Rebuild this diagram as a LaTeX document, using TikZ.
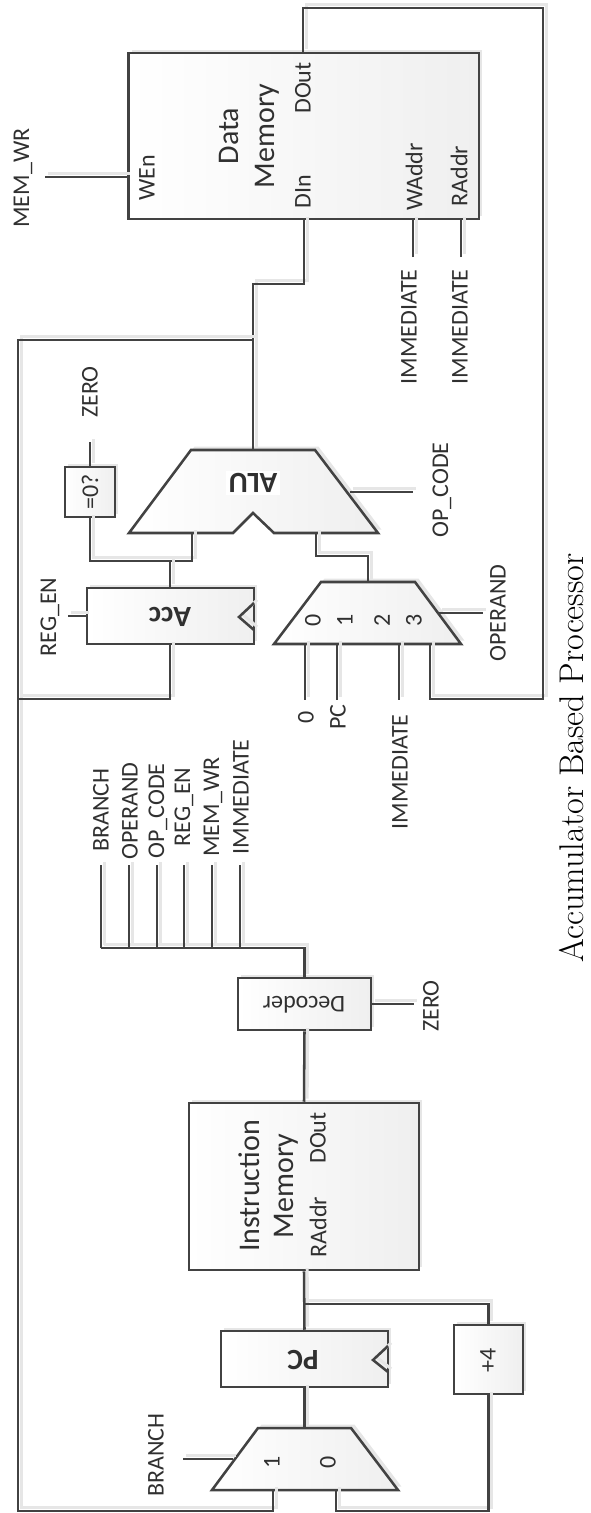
\documentclass[tikz,border=0pt]{standalone}
\usepackage{fontspec}
\setsansfont{Carlito}
\usepackage{xcolor}
\usetikzlibrary{shadows}
\definecolor{wire-dark}{HTML}{424242}
\definecolor{text-dark}{HTML}{303030}
\definecolor{shade-end}{HTML}{EFEFEF}
\definecolor{shadow-soft}{HTML}{E6E6E6}
\def\px{0.75pt}
\tikzset{
    wire/.style={line width=1.9pt, color=wire-dark, line join=miter,
        preaction={draw=shadow-soft, line width=2.2pt, transform canvas={xshift=2.4pt, yshift=2.4pt}}},
    block/.style={draw=wire-dark, line width=1.9pt, left color=white, right color=shade-end,
        drop shadow={shadow xshift=2.6pt, shadow yshift=2.6pt, fill=shadow-soft, opacity=1}},
    sig/.style={font=\sffamily\fontsize{18}{18}\selectfont, text=text-dark, rotate=90, inner sep=0pt},
    title/.style={sig, font=\sffamily\fontsize{22.5}{23}\selectfont},
    tag/.style={font=\sffamily\bfseries\fontsize{22}{22}\selectfont, text=text-dark, rotate=180, inner sep=0pt},
}
\begin{document}
\begin{tikzpicture}[x=\px, y=-\px]
    \useasboundingbox (0,0) rectangle (591,1513);

    \node[block, minimum width=350.5*\px, minimum height=166*\px] (dmem) at (303.75,136) {};
    \node[title] (dmem-a) at (229,136) {Data};
    \node[title] (dmem-b) at (267,136) {Memory};
    \node[sig] (dmem-wen) at (147,178) {WEn};
    \node[sig] (dmem-dout) at (303,88) {DOut};
    \node[sig] (dmem-din) at (303,192) {DIn};
    \node[sig] (dmem-waddr) at (414,177) {WAddr};
    \node[sig] (dmem-raddr) at (459,176) {RAddr};

    \node[block, minimum width=230*\px, minimum height=167*\px] (imem) at (304,1186.5) {};
    \node[title] (imem-a) at (249,1186) {Instruction};
    \node[title] (imem-b) at (286,1186) {Memory};
    \node[sig] (imem-dout) at (318,1138) {DOut};
    \node[sig] (imem-raddr) at (318,1227) {RAddr};

    \draw[block] (191,450) coordinate (alu-tl) -- (315,450) coordinate (alu-tr) -- (378,533) -- (274,533)
        -- (253,513) -- (233,533) -- (129,533) -- cycle;
    \node[tag, fill=white, inner sep=2pt] (alu) at (253,483) {ALU};

    \draw[block] (321,582) coordinate (muxa-tl) -- (415,582) -- (461,644) -- (274,644) coordinate (muxa-bl) -- cycle;
    \node[sig] (muxa-0) at (313,620) {0};
    \node[sig] (muxa-1) at (345,620) {1};
    \node[sig] (muxa-2) at (382,620) {2};
    \node[sig] (muxa-3) at (414,620) {3};

    \draw[block] (258,1428) coordinate (muxb-tl) -- (351,1428) -- (398,1490) -- (212,1490) coordinate (muxb-bl) -- cycle;
    \node[sig] (muxb-1) at (272,1462) {1};
    \node[sig] (muxb-0) at (328,1462) {0};

    \node[block, minimum width=167*\px, minimum height=56*\px] (acc) at (170.5,616) {};
    \node[tag] (acc-lbl) at (170,617) {Acc};
    \draw[wire] (254,603) coordinate (acc-ck-a) -- (239,617) -- (254,630) coordinate (acc-ck-b);

    \node[block, minimum width=167*\px, minimum height=56*\px] (pc) at (304.5,1359) {};
    \node[tag] (pc-lbl) at (303,1360) {PC};
    \draw[wire] (388,1346) coordinate (pc-ck-a) -- (373,1360) -- (388,1372) coordinate (pc-ck-b);

    \node[block, minimum width=50*\px, minimum height=50*\px] (iszero) at (90,492) {};
    \node[sig] (iszero-lbl) at (90,492) {=0?};

    \node[block, minimum width=69*\px, minimum height=69*\px] (plus) at (488.5,1359.5) {};
    \node[sig] (plus-lbl) at (488,1360) {+4};

    \node[block, minimum width=133*\px, minimum height=52*\px] (dec) at (304.5,1004) {};
    \node[tag, font=\sffamily\fontsize{18}{18}\selectfont] (dec-lbl) at (304,1005) {Decoder};

    \coordinate (fb-j) at (253,340);
    \coordinate (acc-j) at (170,561);
    \coordinate (pc-j) at (304.5,1304);
    \coordinate (bus-j) at (304.5,948);

    \draw[wire] (dmem.north -| 303,0) -- (303,8) -- (543,8) -- (543,699) -- (430,699) -- (430,644);
    \draw[wire] (dmem.south -| 304,0) -- (304,284) -- (253,284) -- (fb-j) -- (alu-tl -| fb-j);
    \draw[wire] (fb-j) -- (18,340) -- (18,1511) -- (273,1511) -- (273,1490);
    \draw[wire] (acc.south -| acc-j) -- (170,699) -- (18,699);
    \draw[wire] (iszero.north) -- (90,442);
    \draw[wire] (iszero.south) -- (90,561) -- (192,561) -- (192,533);
    \draw[wire] (acc-j) -- (acc.north -| acc-j);
    \draw[wire] (muxa-tl -| 368,0) -- (368,556) -- (316,556) -- (316,533);
    \draw[wire] (45,177) -- (dmem.west |- 0,177);
    \draw[wire] (413,257) -- (dmem.south -| 413,0);
    \draw[wire] (461,257) -- (dmem.south -| 461,0);
    \draw[wire] (350,492) -- (413,492);
    \draw[wire] (439,613) -- (483,613);
    \draw[wire] (68,616) -- (acc.west |- 0,616);
    \foreach \xin in {305,337,399} {
        \draw[wire] (\xin,644) -- (\xin,700);
    }
    \draw[wire] (dec.south) -- (imem.north);
    \draw[wire] (dec.north) -- (bus-j) -- (101,948);
    \foreach \xbus in {101,129,157,184,212,240} {
        \draw[wire] (\xbus,948) -- (\xbus,865);
    }
    \draw[wire] (dec.east) -- (414,1004);
    \draw[wire] (imem.south) -- (pc.north);
    \draw[wire] (pc-j) -- (488.5,1304) -- (plus.north);
    \draw[wire] (pc.south) -- (muxb-tl -| pc.south);
    \draw[wire] (plus.south) -- (488.5,1511) -- (336,1511) -- (336,1490);
    \draw[wire] (183,1459) -- (233,1459);

    \node[sig] (lbl-memwr) at (23,178) {MEM\_WR};
    \node[sig] (lbl-imm-w) at (409,327) {IMMEDIATE};
    \node[sig] (lbl-imm-r) at (460,327) {IMMEDIATE};
    \node[sig] (lbl-zero) at (90,392) {ZERO};
    \node[sig] (lbl-opcode) at (442,490) {OP\_CODE};
    \node[sig] (lbl-operand) at (498,613) {OPERAND};
    \node[sig] (lbl-regen) at (50,617) {REG\_EN};
    \node[sig] (lbl-zero-in) at (306,717) {0};
    \node[sig] (lbl-pc) at (338,717) {PC};
    \node[sig] (lbl-imm-m) at (400,772) {IMMEDIATE};

    \node[sig] (bus-branch) at (101,810) {BRANCH};
    \node[sig] (bus-operand) at (130,811) {OPERAND};
    \node[sig] (bus-opcode) at (158,811) {OP\_CODE};
    \node[sig] (bus-regen) at (184,807) {REG\_EN};
    \node[sig] (bus-memwr) at (213,807) {MEM\_WR};
    \node[sig] (bus-imm) at (241,797) {IMMEDIATE};
    \node[sig] (dec-zero) at (431,1006) {ZERO};
    \node[sig] (lbl-branch) at (156,1455) {BRANCH};

    \node[rotate=90, inner sep=0pt, font=\fontsize{25.7}{26}\selectfont, text=black] (caption) at (572,758) {Accumulator Based Processor};
\end{tikzpicture}
\end{document}
